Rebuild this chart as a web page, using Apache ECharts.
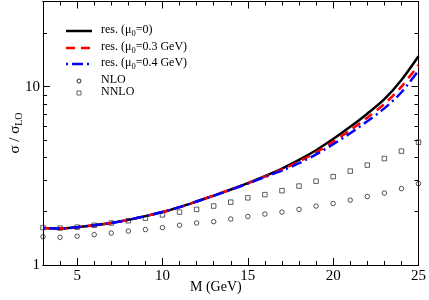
<!DOCTYPE html>
<html><head><meta charset="utf-8">
<script src="https://cdn.jsdelivr.net/npm/echarts@6/dist/echarts.min.js"></script>
<style>html,body{margin:0;padding:0;background:#fff}#c{width:429px;height:300px}</style>
</head><body><div id="c"></div>
<script>
const M = [3,4,5,6,7,8,9,10,11,12,13,14,15,16,17,18,19,20,21,22,23,24,25];
const resMu0  = [1.61,1.60,1.63,1.67,1.72,1.79,1.88,1.98,2.11,2.27,2.45,2.65,2.88,3.15,3.47,3.88,4.40,5.08,5.95,7.05,8.5,10.9,14.8];
const resMu03 = [1.61,1.60,1.63,1.67,1.72,1.79,1.88,1.98,2.11,2.27,2.45,2.65,2.87,3.13,3.43,3.80,4.28,4.90,5.70,6.70,8.0,10.0,13.2];
const resMu04 = [1.61,1.60,1.63,1.67,1.72,1.79,1.88,1.98,2.11,2.27,2.44,2.64,2.86,3.11,3.38,3.72,4.17,4.75,5.48,6.40,7.55,9.3,12.3];
const nlo  = [1.44,1.43,1.45,1.48,1.51,1.55,1.58,1.62,1.67,1.72,1.75,1.81,1.87,1.93,1.98,2.05,2.14,2.21,2.31,2.42,2.53,2.68,2.86];
const nnlo = [1.62,1.61,1.63,1.67,1.72,1.77,1.83,1.91,1.98,2.05,2.14,2.25,2.38,2.48,2.61,2.77,2.95,3.13,3.36,3.63,3.95,4.35,4.88];
const xMajor = [5,10,15,20,25];
const xMinor = [4,6,7,8,9,11,12,13,14,16,17,18,19,21,22,23,24];
const yMajor = [1,10];
const yMinor = [2,3,4,5,6,7,8,9,20,30];
const legendNames = ['res. (μ0=0)','res. (μ0=0.3 GeV)','res. (μ0=0.4 GeV)','NLO','NNLO'];

const pair = a => M.map((m,i)=>[m,a[i]]);
const FONT = '"Liberation Serif","DejaVu Serif",serif';
const grid = {left:43,right:9,top:1.5,bottom:35};
function xAx(pos, ticks, len, labels){
  return {type:'value',min:3,max:25,position:pos,
    axisLine:{show:true,onZero:false,lineStyle:{color:'#000',width:1}},
    axisTick:{show:true,inside:true,length:len,customValues:ticks,lineStyle:{color:'#000',width:1}},
    axisLabel:{show:labels,customValues:ticks,color:'#000',fontFamily:FONT,fontSize:15,margin:4},
    splitLine:{show:false}};
}
function yAx(pos, ticks, len, labels){
  return {type:'log',logBase:10,min:1,max:30,position:pos,
    axisLine:{show:true,onZero:false,lineStyle:{color:'#000',width:1}},
    axisTick:{show:true,inside:true,length:len,customValues:ticks,lineStyle:{color:'#000',width:1}},
    axisLabel:{show:labels,customValues:ticks,color:'#000',fontFamily:FONT,fontSize:15,margin:3},
    splitLine:{show:false}};
}
const xAxis = [xAx('bottom',xMajor,7,true),xAx('bottom',xMinor,4,false),xAx('top',xMajor,7,false),xAx('top',xMinor,4,false)];
const yAxis = [yAx('left',yMajor,7,true),yAx('left',yMinor,4,false),yAx('right',yMajor,7,false),yAx('right',yMinor,4,false)];

const lx0=66, lx1=92, tx=101;
const rows=[31,48,64,81,93];
function legText(i, main, sub, rest){
  const t = sub ? '{a|'+main+'}{s|'+sub+'}{a|'+rest+'}' : '{a|'+main+'}';
  return {type:'text',left:tx,top:rows[i]-7,style:{text:t,rich:{a:{fontFamily:FONT,fontSize:12,fill:'#000'},s:{fontFamily:FONT,fontSize:8.5,fill:'#000',padding:[7,0,0,0]}}}};
}
const graphic = [
  {type:'line',shape:{x1:lx0,y1:rows[0],x2:lx1,y2:rows[0]},style:{stroke:'#000',lineWidth:2.5}},
  {type:'line',shape:{x1:lx0,y1:rows[1],x2:lx1,y2:rows[1]},style:{stroke:'#ff0000',lineWidth:2.5,lineDash:[9,6]}},
  {type:'line',shape:{x1:lx0,y1:rows[2],x2:lx1,y2:rows[2]},style:{stroke:'#0000ff',lineWidth:2.5,lineDash:[2,4,11,4]}},
  {type:'circle',shape:{cx:79,cy:rows[3],r:2},style:{stroke:'#111',fill:'none',lineWidth:0.9}},
  {type:'rect',shape:{x:77,y:rows[4]-2,width:4,height:4},style:{stroke:'#555',fill:'none',lineWidth:0.9}},
  legText(0,'res. (μ','0','=0)'),
  legText(1,'res. (μ','0','=0.3 GeV)'),
  legText(2,'res. (μ','0','=0.4 GeV)'),
  legText(3,'NLO'),
  legText(4,'NNLO'),
  {type:'text',left:190,top:280,style:{text:'M (GeV)',fontFamily:FONT,fontSize:14,fill:'#000'}},
  {type:'text',x:15,y:133,rotation:Math.PI/2,style:{text:'{a|σ / σ}{s|LO}',align:'center',verticalAlign:'middle',rich:{a:{fontFamily:FONT,fontSize:15,fill:'#000'},s:{fontFamily:FONT,fontSize:10,fill:'#000',padding:[8,0,0,0]}}}}
];

const chart = echarts.init(document.getElementById('c'),null,{renderer:'canvas'});
chart.setOption({
  animation:false,
  grid: grid,
  xAxis: xAxis,
  yAxis: yAxis,
  graphic: graphic,
  series:[
    {name:legendNames[3],type:'scatter',data:pair(nlo),symbol:'circle',symbolSize:4.5,itemStyle:{color:'rgba(255,255,255,0)',borderColor:'#111',borderWidth:0.9},z:2},
    {name:legendNames[4],type:'scatter',data:pair(nnlo),symbol:'rect',symbolSize:4.5,itemStyle:{color:'rgba(255,255,255,0)',borderColor:'#222',borderWidth:0.9},z:2},
    {name:legendNames[0],type:'line',data:pair(resMu0),smooth:0.3,showSymbol:false,lineStyle:{color:'#000',width:2.5},z:3},
    {name:legendNames[1],type:'line',data:pair(resMu03),smooth:0.3,showSymbol:false,lineStyle:{color:'#ff0000',width:2.5,type:[9,6]},z:4},
    {name:legendNames[2],type:'line',data:pair(resMu04),smooth:0.3,showSymbol:false,lineStyle:{color:'#0000ff',width:2.5,type:[2,4,11,4]},z:5}
  ]
});
</script></body></html>
